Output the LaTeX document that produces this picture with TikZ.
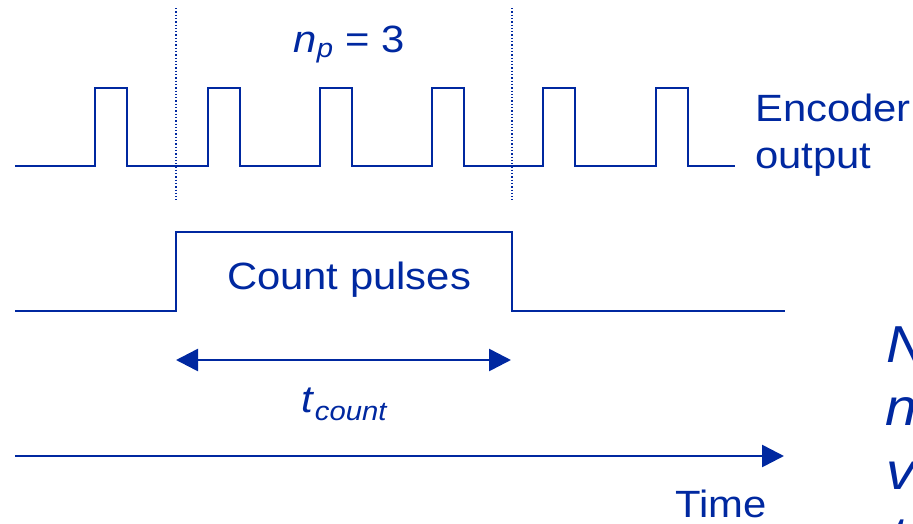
\documentclass[tikz,border=0pt]{standalone}
\usepackage{fontspec}
\setmainfont[FakeStretch=1.1]{Liberation Sans}
\usetikzlibrary{arrows.meta}
\definecolor{dblue}{RGB}{0,40,160}
\begin{document}
\begin{tikzpicture}[x=1pt,y=-1pt,
  sig/.style={draw=dblue,line width=2.2pt,line join=miter},
  marker/.style={draw=dblue,line width=1.3pt,dotted},
  arr/.style={draw=dblue,line width=2.6pt,-{Triangle[length=22pt,width=22pt]}},
  darr/.style={draw=dblue,line width=2.6pt,{Triangle[length=22pt,width=22pt]}-{Triangle[length=22pt,width=22pt]}},
  lbl/.style={text=dblue,inner sep=0pt,font=\fontsize{38}{44}\selectfont},
  side/.style={text=dblue,inner sep=0pt,anchor=base west,font=\fontsize{52}{60}\selectfont\itshape}]
\useasboundingbox (0,0) rectangle (913,523);
% encoder waveform
\draw[sig] (15,166) -- (95,166) -- (95,88) -- (127,88) -- (127,166)
  -- (208,166) -- (208,88) -- (240,88) -- (240,166)
  -- (320,166) -- (320,88) -- (352,88) -- (352,166)
  -- (432,166) -- (432,88) -- (464,88) -- (464,166)
  -- (543,166) -- (543,88) -- (575,88) -- (575,166)
  -- (656,166) -- (656,88) -- (688,88) -- (688,166) -- (735,166);
% count gate
\draw[sig] (15,311) -- (176,311) -- (176,232) -- (512,232) -- (512,311) -- (785,311);
% dotted markers
\coordinate (m1t) at (176,8); \coordinate (m1b) at (176,200);
\coordinate (m2t) at (512,8); \coordinate (m2b) at (512,200);
\draw[marker] (m1t) -- (m1b);
\draw[marker] (m2t) -- (m2b);
% labels
\node[lbl,anchor=base] (np) at (349,52) {\textit{n}\textsubscript{\textit{p}} = 3};
\node[lbl,anchor=base west] (enc) at (755,121) {Encoder};
\node[lbl,anchor=base west] (out) at (755,168) {output};
\node[lbl,anchor=base] (cp) at (349,289) {Count pulses};
% t_count
\coordinate (ta) at (176,360); \coordinate (tb) at (511,360);
\draw[darr] (ta) -- (tb);
\node[lbl,anchor=base] (tc) at (345,412) {\textit{t}\textsubscript{\textit{count}}};
% time axis
\coordinate (t0) at (15,456); \coordinate (t1) at (784,456);
\draw[arr] (t0) -- (t1);
\node[lbl,anchor=base] (time) at (721,517) {Time};
% clipped side text
\begin{scope}
\clip (0,0) rectangle (913,523);
\node[side] (s1) at (886,362) {N};
\node[side] (s2) at (885,425) {n\textsubscript{p}};
\node[side] (s3) at (886,489) {v};
\node[side] (s4) at (890,553) {t};
\end{scope}
\end{tikzpicture}
\end{document}
